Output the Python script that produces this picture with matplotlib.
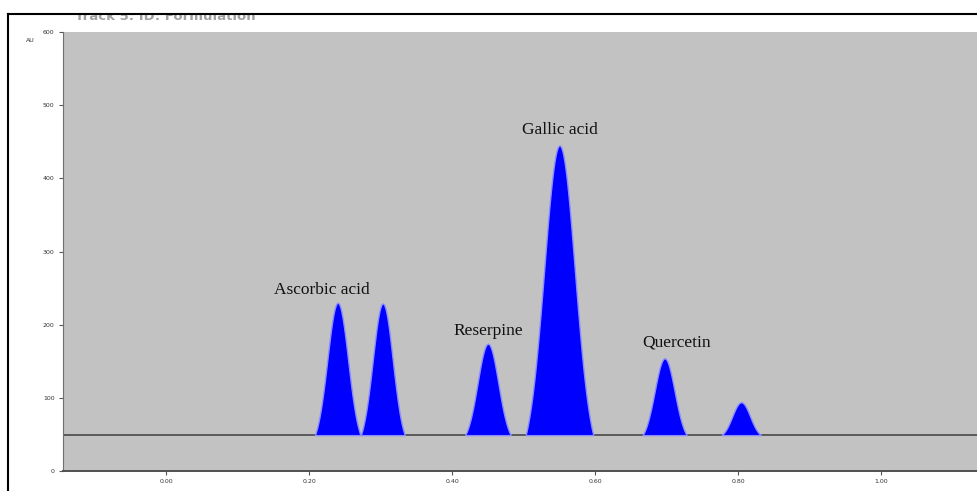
import matplotlib.pyplot as plt
import numpy as np
from matplotlib.patches import Rectangle
from matplotlib.lines import Line2D

# peak table of the densitogram (Rf, height above baseline in AU, sigma in Rf)
peak_rf = [0.240, 0.303, 0.450, 0.550, 0.697, 0.804]
peak_height = [181, 180, 125, 396, 105, 45]
peak_sigma = [0.0145, 0.0140, 0.0145, 0.0215, 0.0140, 0.0125]
baseline_au = 49

label_names = ["Ascorbic acid", "Reserpine", "Gallic acid", "Quercetin"]
label_rf = [0.218, 0.450, 0.550, 0.714]
label_au = [247, 191, 466, 176]

x_ticks = [0.0, 0.2, 0.4, 0.6, 0.8, 1.0]
x_tick_labels = ["0.00", "0.20", "0.40", "0.60", "0.80", "1.00"]
y_ticks = [0, 100, 200, 300, 400, 500, 600]

fig = plt.figure(figsize=(9.78, 4.91), dpi=100)
fig.patch.set_facecolor("white")

W, H = 978, 491
ax = fig.add_axes([63 / W, 20 / H, (W - 63) / W, 439 / H])
ax.set_facecolor("#c2c2c2")

rf = np.linspace(-0.144, 1.135, 6000)
cut = 2.2
floor = np.exp(-0.5 * cut ** 2)
for x0, h, s in zip(peak_rf, peak_height, peak_sigma):
    # gaussian peak lowered so it meets the baseline at +-cut sigma
    g = (np.exp(-0.5 * ((rf - x0) / s) ** 2) - floor) / (1 - floor)
    mask = np.abs(rf - x0) <= cut * s
    ax.fill_between(rf[mask], baseline_au, baseline_au + h * np.clip(g[mask], 0, None),
                    facecolor="#0000ff", edgecolor="#8c8cff", linewidth=1.0, zorder=3)

ax.axhline(baseline_au, color="#5a5a5a", linewidth=1.4, zorder=2)

for name, x, y in zip(label_names, label_rf, label_au):
    ax.text(x, y, name, ha="center", va="center", fontsize=12.5,
            family="Liberation Serif", color="#111111", zorder=4)

ax.set_xlim(-0.144, 1.135)
ax.set_ylim(0, 600)
ax.set_xticks(x_ticks)
ax.set_xticklabels(x_tick_labels)
ax.set_yticks(y_ticks)
ax.tick_params(axis="both", labelsize=4.5, labelcolor="#333333", color="#555555",
               length=3, width=0.8, pad=3)
for side in ["top", "right"]:
    ax.spines[side].set_visible(False)
ax.spines["left"].set_color("#707070")
ax.spines["bottom"].set_color("#505050")
ax.spines["bottom"].set_linewidth(1.4)

fig.text(30 / W, 1 - 40 / H, "AU", fontsize=4.5, color="#333333", ha="center", va="center")

# track title, partly hidden behind the top of the frame
fig.text(75 / W, 1 - 17 / H, "Track 5: ID: Formulation", fontsize=9.5, color="#a0a0a0",
         ha="left", va="center", fontweight="bold")
fig.patches.append(Rectangle((0, 1 - 14 / H), 1, 14 / H, transform=fig.transFigure,
                             facecolor="white", edgecolor="none", zorder=10))
fig.lines.append(Line2D([8 / W, 1], [1 - 14 / H, 1 - 14 / H], transform=fig.transFigure,
                        color="black", linewidth=1.5, zorder=11))
fig.lines.append(Line2D([8 / W, 8 / W], [0, 1 - 14 / H], transform=fig.transFigure,
                        color="black", linewidth=1.5, zorder=11))

fig.savefig("out.png", dpi=100)
